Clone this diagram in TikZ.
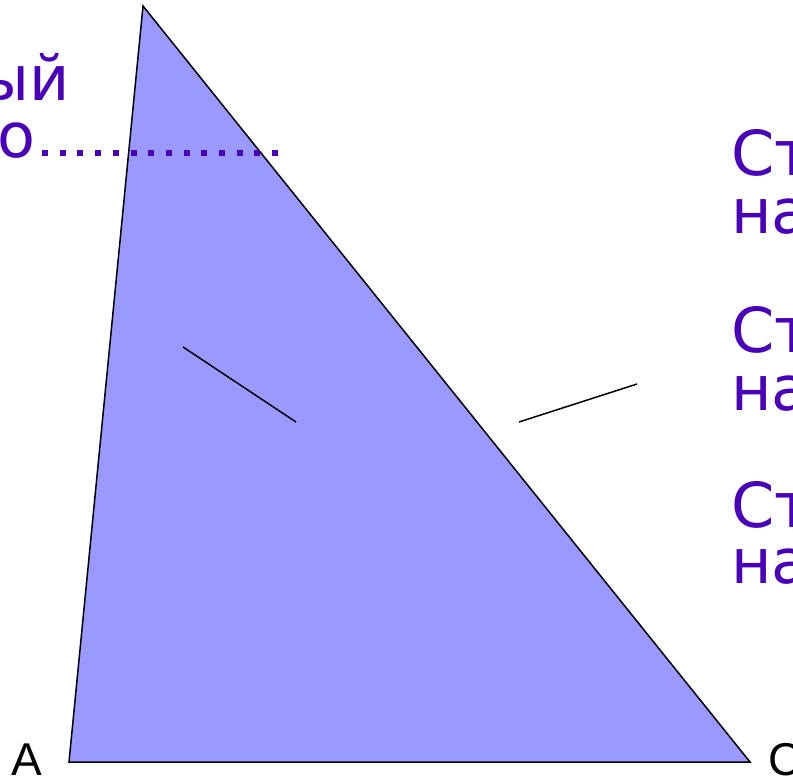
\documentclass[tikz,border=0pt]{standalone}
\usepackage{fontspec}
\setmainfont{DejaVu Sans}
\newfontfamily\labelfont{Liberation Sans}
\definecolor{txtpurple}{HTML}{4A00B8}
\definecolor{trifill}{HTML}{9999FF}
\tikzset{
  bigtext/.style={text=txtpurple, font=\fontsize{62}{58}\selectfont, inner sep=0pt},
  vertexlabel/.style={font=\labelfont\fontsize{46}{46}\selectfont, inner sep=0pt, text=black},
  edge/.style={draw=black, line width=1.5pt},
  dotline/.style={draw=txtpurple, line width=6pt, dash pattern=on 6pt off 11.7pt},
}
\begin{document}
\begin{tikzpicture}[x=1pt, y=-1pt]
\useasboundingbox (0,0) rectangle (793,779);
\clip (0,0) rectangle (793,779);
\fill[white] (0,0) rectangle (793,779);
% triangle
\coordinate (B) at (143,6);
\coordinate (A) at (69,762);
\coordinate (C) at (750,762);
\filldraw[fill=trifill, edge, line join=miter] (B) -- (A) -- (C) -- cycle;
% stray segments
\coordinate (s1a) at (183,347);
\coordinate (s1b) at (296,422);
\coordinate (s2a) at (519,422);
\coordinate (s2b) at (637,384);
\draw[edge] (s1a) -- (s1b);
\draw[edge] (s2a) -- (s2b);
% left text
\node[bigtext, anchor=base east] (l1) at (70,100) {ый};
\node[bigtext, anchor=base east] (l2) at (36,157) {о};
\coordinate (d1) at (42,153);
\coordinate (d2) at (280,153);
\draw[dotline] (d1) -- (d2);
% right text
\node[bigtext, anchor=base west] (r1a) at (731,175) {Ст};
\node[bigtext, anchor=base west] (r1b) at (731,233) {на};
\node[bigtext, anchor=base west] (r2a) at (731,352) {Ст};
\node[bigtext, anchor=base west] (r2b) at (731,410) {на};
\node[bigtext, anchor=base west] (r3a) at (731,527) {Ст};
\node[bigtext, anchor=base west] (r3b) at (731,583) {на};
% vertex labels
\node[vertexlabel, anchor=base west] (la) at (11,775) {A};
\node[vertexlabel, anchor=base west] (lc) at (768,775) {C};
\end{tikzpicture}
\end{document}
